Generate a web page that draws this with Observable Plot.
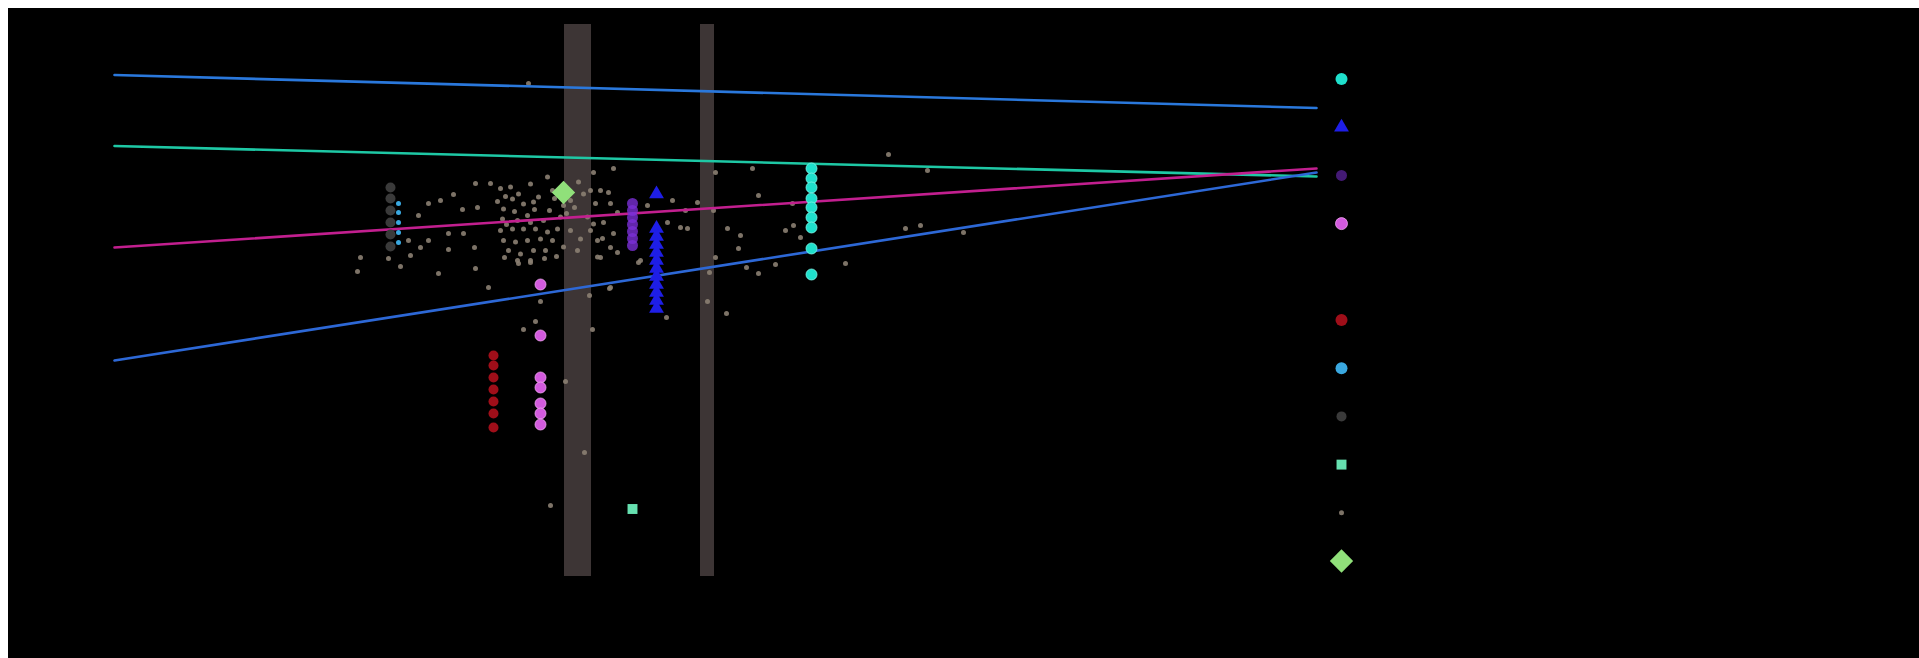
<!DOCTYPE html>
<html>
<head>
<meta charset="utf-8">
<script src="https://cdn.jsdelivr.net/npm/d3@7"></script>
<script src="https://cdn.jsdelivr.net/npm/@observablehq/plot@0.6"></script>
<style>
  html, body { background: #fff; margin: 0; padding: 0; overflow: hidden; }
  body { margin: 8px 0 0 8px; }
  #chart svg { display: block; max-width: none !important; }
</style>
</head>
<body>
<div id="chart"></div>
<script>
// ---------------- data (arbitrary units) ----------------
const lineNames  = ["upper", "teal", "magenta", "lower"];
const lineStartY = [100.3, 86.1, 65.8, 43.2];
const lineEndY   = [93.7, 80.0, 81.6, 80.8];
const lineX      = [0, 120.2];

const bandStart = [45.0, 58.6];
const bandEnd   = [47.7, 60.0];
const bandRange = [0, 110.4];

const tealX = 69.7;
const tealY = [81.6, 79.6, 77.8, 75.6, 73.8, 71.8, 69.8, 65.6, 60.4];

const blueX = 54.2;
const blueY = [76.5, 69.6, 68.0, 66.4, 64.8, 63.2, 61.6, 60.0, 58.4, 56.8, 55.2, 53.6];

const purpleX = 51.8;
const purpleY = [74.6, 73.2, 71.8, 70.4, 69.0, 67.6, 66.2];

const orchidX = 42.6;
const orchidY = [58.4, 48.2, 39.8, 37.8, 34.6, 32.6, 30.4];

const redX = 37.9;
const redY = [44.2, 42.2, 39.8, 37.4, 35.0, 32.6, 29.8];

const skyX = 28.4;
const skyY = [74.6, 72.8, 70.8, 68.8, 66.8];

const darkX = 27.6;
const darkY = [77.8, 75.6, 73.2, 70.8, 68.4, 66.0];

const squarePoint  = [51.8, 13.5];
const diamondPoint = [44.9, 76.8];

const grayPoints = [
  [41.4,98.6],
  [36.1,61.6],[37.4,57.8],[42.6,55.0],[42.1,51.0],[40.9,49.4],[47.8,49.4],[47.5,56.2],[49.5,57.6],
  [45.1,39.0],[47.0,24.8],[43.6,14.2],[55.2,51.8],[59.3,55.0],[61.2,52.6],[59.5,60.8],[64.4,60.6],
  [66.1,62.4],[73.1,62.6],[63.2,61.8],[52.4,62.8],[40.4,62.6],[41.6,62.8],
  [36.1,78.6],[37.6,78.6],[33.9,76.4],[32.6,75.2],[31.4,74.6],[34.8,73.4],[36.3,73.8],[30.4,72.2],
  [33.4,68.6],[34.9,68.6],[31.4,67.2],[30.6,65.8],[29.4,67.2],[29.6,64.2],[33.4,65.4],[36.0,65.8],
  [24.6,63.8],[24.3,61.0],[27.4,63.6],[28.6,62.0],[32.4,60.6],
  [39.6,77.9],[40.4,76.5],[38.9,73.5],[39.8,75.5],[40.9,74.5],[41.9,74.9],[42.4,75.9],[43.3,79.9],
  [41.6,78.5],[38.8,71.5],[40.3,71.2],[41.3,72.2],[42.9,71.2],[38.6,69.2],[39.8,69.5],[40.9,69.5],
  [42.1,69.5],[43.3,68.9],[44.3,69.5],[38.9,67.2],[40.1,66.9],[41.3,67.2],[42.6,67.5],[43.8,67.2],
  [39.4,65.2],[40.6,64.5],[41.9,65.2],[43.1,65.2],[40.3,63.2],[41.6,63.2],[44.6,71.9],[44.9,74.2],
  [45.6,75.2],[46.4,78.9],[46.9,76.5],[47.6,77.2],[45.6,69.2],[46.6,67.5],[47.6,69.2],[44.9,65.9],
  [46.3,65.2],[47.3,71.9],[47.9,70.5],[48.3,67.2],[48.3,63.9],
  [39.1,76.0],[43.5,73.2],[41.6,70.8],[44.2,64.0],[39.2,70.4],[43.8,77.2],[38.6,77.6],
  [40.0,73.0],[42.0,73.4],[38.3,75.0],[44.0,75.6],[45.2,72.6],[43.0,63.6],[39.0,63.8],[46.0,73.8],
  [47.9,80.8],[49.9,81.6],[48.6,77.2],[49.4,76.8],[48.1,74.6],[49.6,74.6],[50.3,72.8],[48.9,70.8],
  [49.9,68.6],[48.8,67.6],[49.6,65.8],[48.6,63.8],[50.3,64.8],[52.6,63.2],[53.3,74.2],[55.8,75.2],
  [55.3,70.8],[56.6,69.8],[57.1,73.2],[57.3,69.6],[58.3,74.8],[60.1,80.8],[59.9,73.2],[60.1,63.8],
  [61.3,69.6],[62.6,68.2],[62.4,65.6],[64.4,76.2],[63.8,81.6],[67.8,74.6],[67.1,69.2],[67.9,70.2],
  [68.6,67.8],[49.6,57.8],
  [77.4,84.4],[81.3,81.2],[79.1,69.6],[80.6,70.2],[84.9,68.8]
];

const legendNames = ["teal", "blue", "purple", "orchid", "none", "red", "sky", "dark", "square", "gray", "diamond"];

// ---------------- styles ----------------
const lineColors = {upper: "#2a78dc", teal: "#1ec8a5", magenta: "#c21f8f", lower: "#2d68d6"};
const C = {
  teal: "#1fe0cc", blue: "#1e1ee6", purple: "#7b2fd6", orchid: "#d35ade", none: "#000000",
  red: "#b0101c", sky: "#3aa8e0", dark: "#3a3a3a", square: "#66e0b0", gray: "#8b7f72", diamond: "#90e07a"
};
const legendStyle = {
  teal: {symbol: "circle", r: 6, o: 1},
  blue: {symbol: "triangle", r: 5.5, o: 1},
  purple: {symbol: "circle", r: 5.5, o: 0.55},
  orchid: {symbol: "circle", r: 6, o: 1},
  none: {symbol: "circle", r: 5, o: 1},
  red: {symbol: "circle", r: 6, o: 0.9},
  sky: {symbol: "circle", r: 6, o: 1},
  dark: {symbol: "circle", r: 5, o: 1},
  square: {symbol: "square", r: 5.6, o: 1},
  gray: {symbol: "circle", r: 2.5, o: 0.9},
  diamond: {symbol: "diamond2", r: 10.5, o: 1}
};

// ---------------- derived tables ----------------
const lineData = lineNames.flatMap((n, i) => [
  {name: n, x: lineX[0], y: lineStartY[i]},
  {name: n, x: lineX[1], y: lineEndY[i]}
]);
const bands = bandStart.map((s, i) => ({x1: s, x2: bandEnd[i], y1: bandRange[0], y2: bandRange[1]}));
const col = (x, ys) => ys.map(y => ({x, y}));
const grays = grayPoints.map(([x, y]) => ({x, y}));

const legendX = 122.7, legendTop = 99.5, legendStep = 9.64;
const legendMarks = legendNames.map((n, i) => {
  const s = legendStyle[n];
  return Plot.dot([{x: legendX, y: legendTop - i * legendStep}], {
    x: "x", y: "y", symbol: s.symbol, r: s.r, fill: C[n], fillOpacity: s.o,
    stroke: n === "orchid" ? "#f0a6f0" : "none", strokeWidth: 0.8
  });
});

const W = 1911, H = 650;
const chart = Plot.plot({
  width: W, height: H,
  margin: 0,
  style: {background: "#000"},
  x: {domain: [0, 120.2], range: [106, 1308], axis: null},
  y: {domain: [0, 110.4], range: [568, 16], axis: null},
  marks: [
    Plot.rect(bands, {x1: "x1", x2: "x2", y1: "y1", y2: "y2", fill: "#3d3535"}),
    Plot.dot(grays, {x: "x", y: "y", r: 2.5, fill: C.gray, fillOpacity: 0.9}),
    Plot.line(lineData, {x: "x", y: "y", z: "name", stroke: d => lineColors[d.name], strokeWidth: 2.6}),
    Plot.dot(col(darkX, darkY), {x: "x", y: "y", r: 5, fill: C.dark}),
    Plot.dot(col(skyX, skyY), {x: "x", y: "y", r: 2.5, fill: C.sky}),
    Plot.dot(col(redX, redY), {x: "x", y: "y", r: 5, fill: C.red, fillOpacity: 0.9}),
    Plot.dot(col(orchidX, orchidY), {x: "x", y: "y", r: 5.5, fill: C.orchid, stroke: "#f0a6f0", strokeWidth: 0.8}),
    Plot.dot(col(purpleX, purpleY), {x: "x", y: "y", r: 5.5, fill: C.purple, fillOpacity: 0.8}),
    Plot.dot(col(blueX, blueY), {x: "x", y: "y", symbol: "triangle", r: 5.5, fill: C.blue}),
    Plot.dot(col(tealX, tealY), {x: "x", y: "y", r: 5.5, fill: C.teal, stroke: "#7ff5e8", strokeWidth: 0.8}),
    Plot.dot([{x: squarePoint[0], y: squarePoint[1]}], {x: "x", y: "y", symbol: "square", r: 5.6, fill: C.square}),
    Plot.dot([{x: diamondPoint[0], y: diamondPoint[1]}], {x: "x", y: "y", symbol: "diamond2", r: 10.5, fill: C.diamond}),
    ...legendMarks
  ]
});
document.getElementById("chart").append(chart);
</script>
</body>
</html>
